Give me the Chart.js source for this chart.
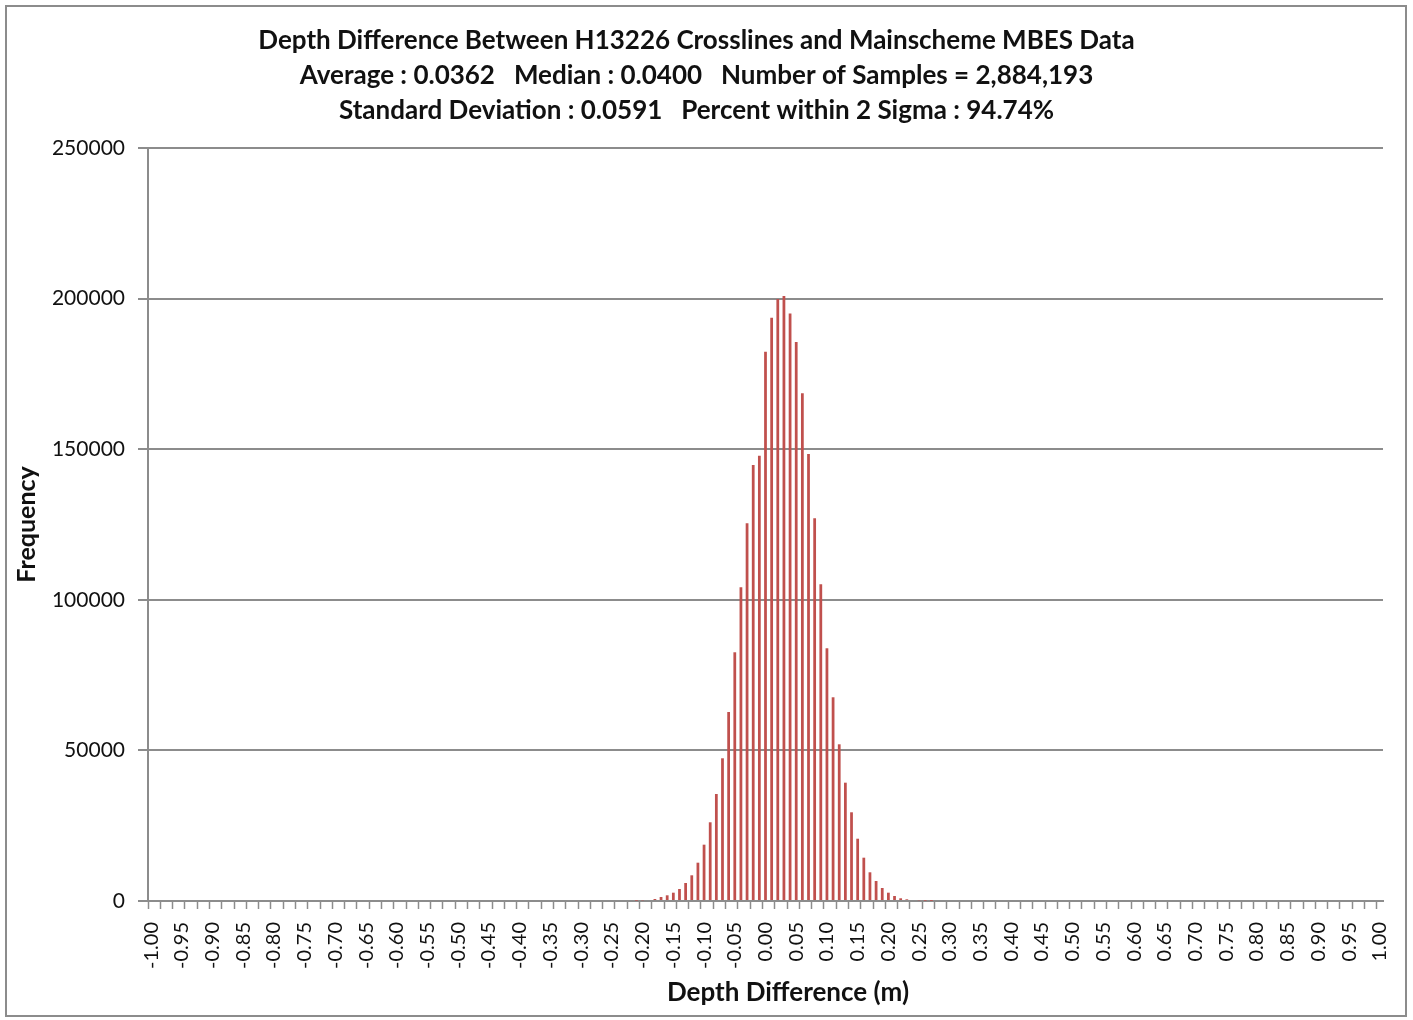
<!DOCTYPE html>
<html>
<head>
<meta charset="utf-8">
<title>Depth Difference Histogram</title>
<script src="https://cdn.jsdelivr.net/npm/chart.js@4.4.1/dist/chart.umd.min.js"></script>
<style>
  html, body { margin: 0; padding: 0; background: #fff; }
  #wrap { position: relative; width: 1413px; height: 1020px; }
</style>
</head>
<body>
<div id="wrap"><canvas id="histChart" width="1413" height="1020"></canvas></div>
<script>
// Histogram of depth differences, 0.01 m bins

// x axis categories (bin centres, m)
const categories = [
  '-1.00','-0.99','-0.98','-0.97','-0.96','-0.95','-0.94','-0.93','-0.92','-0.91',
  '-0.90','-0.89','-0.88','-0.87','-0.86','-0.85','-0.84','-0.83','-0.82','-0.81',
  '-0.80','-0.79','-0.78','-0.77','-0.76','-0.75','-0.74','-0.73','-0.72','-0.71',
  '-0.70','-0.69','-0.68','-0.67','-0.66','-0.65','-0.64','-0.63','-0.62','-0.61',
  '-0.60','-0.59','-0.58','-0.57','-0.56','-0.55','-0.54','-0.53','-0.52','-0.51',
  '-0.50','-0.49','-0.48','-0.47','-0.46','-0.45','-0.44','-0.43','-0.42','-0.41',
  '-0.40','-0.39','-0.38','-0.37','-0.36','-0.35','-0.34','-0.33','-0.32','-0.31',
  '-0.30','-0.29','-0.28','-0.27','-0.26','-0.25','-0.24','-0.23','-0.22','-0.21',
  '-0.20','-0.19','-0.18','-0.17','-0.16','-0.15','-0.14','-0.13','-0.12','-0.11',
  '-0.10','-0.09','-0.08','-0.07','-0.06','-0.05','-0.04','-0.03','-0.02','-0.01',
  '0.00',
  '0.01','0.02','0.03','0.04','0.05','0.06','0.07','0.08','0.09','0.10',
  '0.11','0.12','0.13','0.14','0.15','0.16','0.17','0.18','0.19','0.20',
  '0.21','0.22','0.23','0.24','0.25','0.26','0.27','0.28','0.29','0.30',
  '0.31','0.32','0.33','0.34','0.35','0.36','0.37','0.38','0.39','0.40',
  '0.41','0.42','0.43','0.44','0.45','0.46','0.47','0.48','0.49','0.50',
  '0.51','0.52','0.53','0.54','0.55','0.56','0.57','0.58','0.59','0.60',
  '0.61','0.62','0.63','0.64','0.65','0.66','0.67','0.68','0.69','0.70',
  '0.71','0.72','0.73','0.74','0.75','0.76','0.77','0.78','0.79','0.80',
  '0.81','0.82','0.83','0.84','0.85','0.86','0.87','0.88','0.89','0.90',
  '0.91','0.92','0.93','0.94','0.95','0.96','0.97','0.98','0.99','1.00'
];

// bins that hold any samples (everything else is 0)
const binLabels = [
  '-0.21','-0.20','-0.19','-0.18','-0.17','-0.16','-0.15','-0.14','-0.13','-0.12','-0.11',
  '-0.10','-0.09','-0.08','-0.07','-0.06','-0.05','-0.04','-0.03','-0.02','-0.01',
  '0.00','0.01','0.02','0.03','0.04','0.05','0.06','0.07','0.08','0.09','0.10',
  '0.11','0.12','0.13','0.14','0.15','0.16','0.17','0.18','0.19','0.20',
  '0.21','0.22','0.23','0.24','0.25','0.26','0.27'
];

// frequency per bin
const counts = [
  120, 230, 330, 660, 1330, 1890, 2760, 3980, 5980, 8530, 12720,
  18700, 26130, 35520, 47380, 62750, 82570, 104150, 125400, 144750, 147840,
  182370, 193660, 199860, 200860, 195000, 185590, 168560, 148400, 127060, 105140, 83900,
  67630, 52020, 39280, 29450, 20680, 14380, 9530, 6640, 4320, 2760,
  1660, 900, 560, 330, 230, 120, 60
];

const yTicks = [0, 50000, 100000, 150000, 200000, 250000];

const titleLines = [
  'Depth Difference Between H13226 Crosslines and Mainscheme MBES Data',
  'Average : 0.0362   Median : 0.0400   Number of Samples = 2,884,193',
  'Standard Deviation : 0.0591   Percent within 2 Sigma : 94.74%'
];
const xTitle = 'Depth Difference (m)';
const yTitle = 'Frequency';

const AXIS_GREY = '#8c8c8c';
const BAR_RED = '#c0504d';
const FONT = 'Lato, "Open Sans", sans-serif';

Chart.defaults.font.family = FONT;
Chart.defaults.color = '#111';

// white page, grey frame, and the x axis title (sits a bit right of centre)
const framePlugin = {
  id: 'frame',
  beforeDraw(chart) {
    const ctx = chart.ctx;
    ctx.save();
    ctx.fillStyle = '#fff';
    ctx.fillRect(0, 0, chart.width, chart.height);
    ctx.strokeStyle = AXIS_GREY;
    ctx.lineWidth = 2;
    ctx.strokeRect(6, 6, 1400, 1010);
    ctx.restore();
  },
  afterDraw(chart) {
    const ctx = chart.ctx;
    ctx.save();
    ctx.fillStyle = '#111';
    ctx.font = 'bold 26px ' + FONT;
    ctx.textAlign = 'center';
    ctx.textBaseline = 'middle';
    ctx.fillText(xTitle, 788, 993);
    ctx.restore();
  }
};

const histData = binLabels.map((b, i) => ({ x: b, y: counts[i] }));

new Chart(document.getElementById('histChart'), {
  type: 'bar',
  data: {
    labels: categories,
    datasets: [{
      label: 'Frequency',
      data: histData,
      backgroundColor: BAR_RED,
      borderWidth: 0,
      categoryPercentage: 1.0,
      barPercentage: 0.45
    }]
  },
  options: {
    responsive: false,
    animation: false,
    layout: { padding: { left: 10, right: 30, top: 0, bottom: 10 } },
    plugins: {
      legend: { display: false },
      tooltip: { enabled: false },
      title: {
        display: true,
        text: titleLines,
        color: '#111',
        font: { size: 26, weight: 'bold', lineHeight: 1.33 },
        padding: { top: 23.7, bottom: 20.5 }
      }
    },
    scales: {
      x: {
        type: 'category',
        offset: true,
        afterFit(scale) {
          scale.height = 109;
          scale.paddingRight = 0;
        },
        grid: {
          offset: true,
          drawOnChartArea: false,
          drawTicks: true,
          tickLength: 8,
          tickWidth: 1.5,
          tickColor: (c) => (c.index % 2 === 0 ? AXIS_GREY : 'rgba(0,0,0,0)')
        },
        border: { display: true, color: AXIS_GREY, width: 2 },
        ticks: {
          autoSkip: false,
          maxRotation: 90,
          minRotation: 90,
          padding: 13,
          color: '#111',
          font: { size: 20 },
          callback(value, index) {
            return index % 5 === 0 ? categories[index] : '';
          }
        },
        title: { display: false }
      },
      y: {
        min: 0,
        max: 250000,
        afterFit(scale) { scale.width = 138; },
        afterBuildTicks(scale) {
          scale.ticks = yTicks.map(v => ({ value: v }));
        },
        grid: {
          color: AXIS_GREY,
          lineWidth: 2,
          drawTicks: true,
          tickLength: 10
        },
        border: { display: true, color: AXIS_GREY, width: 2 },
        ticks: {
          padding: 13,
          color: '#111',
          font: { size: 21 },
          callback: (v) => String(v)
        },
        title: {
          display: true,
          text: yTitle,
          color: '#111',
          font: { size: 25, weight: 'bold' },
          padding: { top: 2, bottom: 2 }
        }
      }
    }
  },
  plugins: [framePlugin]
});
</script>
</body>
</html>
